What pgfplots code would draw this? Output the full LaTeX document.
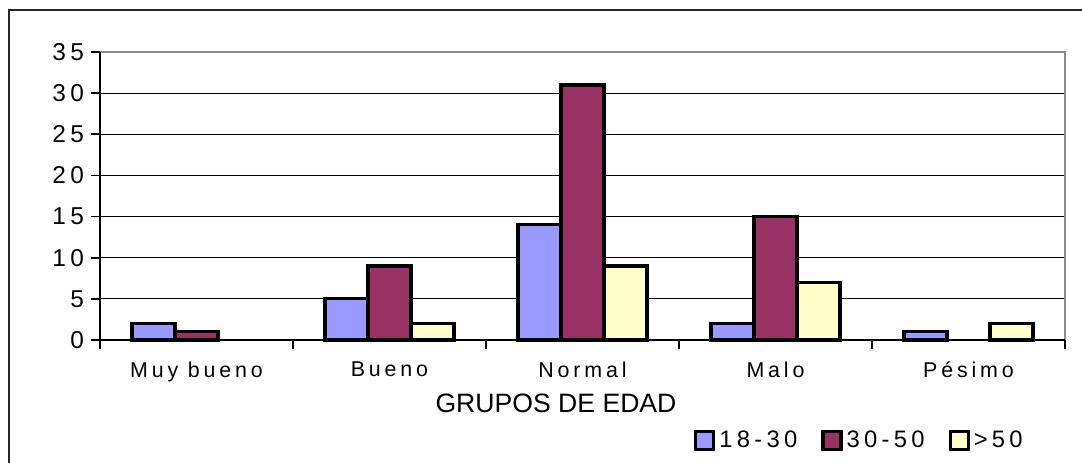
\documentclass[border=0pt]{standalone}
\usepackage{fontspec}
\setmainfont{Liberation Sans}
\newfontfamily\spaced[LetterSpace=18]{Liberation Sans}
\usepackage{pgfplots}
\pgfplotsset{compat=1.18}
\definecolor{cA}{HTML}{9999FF}
\definecolor{cB}{HTML}{993366}
\definecolor{cC}{HTML}{FFFFCC}
\definecolor{bordgray}{HTML}{8C8C8C}
\begin{document}
\begin{tikzpicture}[x=1pt,y=1pt]
\path[use as bounding box] (0,0) rectangle (541,231);
\draw[line width=1pt, black!85] (4.5,-5) -- (4.5,226) -- (546,226);
\begin{axis}[at={(50pt,61pt)}, anchor=south west, scale only axis,
  width=482.5pt, height=144pt,
  xmin=-0.5, xmax=4.5, ymin=0, ymax=35,
  ytick={0,5,...,35},
  xtick={-0.5,0.5,1.5,2.5,3.5,4.5},
  xticklabels={,,,,,},
  extra x ticks={0,1,2,3,4},
  extra x tick labels={Muy bueno,Bueno,Normal,Malo,Pésimo},
  extra x tick style={tick style={draw=none}},
  tick align=outside,
  xtick pos=left, ytick pos=left,
  major tick length=4.5pt,
  tick style={black, line width=0.8pt},
  ymajorgrids, grid style={black, line width=0.6pt},
  axis line style={draw=none},
  /pgf/number format/assume math mode=true,
  yticklabel style={font=\spaced\fontsize{12.2}{14}\selectfont},
  xticklabel style={font=\spaced\fontsize{10.7}{13}\selectfont, yshift=-3pt},
  ybar=0pt, bar width=21.5pt,
  clip=false,
  legend style={at={(0.788,-0.35)}, anchor=center, draw=none,
    font=\spaced\fontsize{11.9}{14}\selectfont,
    /tikz/every even column/.append style={column sep=10pt}},
  legend columns=3,
  legend image code/.code={\draw[#1, draw=black, line width=1.6pt] (0pt,-4.5pt) rectangle (9pt,4.5pt);},
]
\addplot[fill=cA, draw=black, line width=1.6pt] coordinates {(0,2) (1,5) (2,14) (3,2) (4,1)};
\addplot[fill=cB, draw=black, line width=1.6pt] coordinates {(0,1) (1,9) (2,31) (3,15)};
\addplot[fill=cC, draw=black, line width=1.6pt] coordinates {(1,2) (2,9) (3,7) (4,2)};
\legend{18-30,30-50,>50}
\draw[bordgray, line width=1.2pt] (rel axis cs:0,1) -- (rel axis cs:1,1) -- (rel axis cs:1,0);
\draw[black, line width=0.8pt] (rel axis cs:0,1) -- (rel axis cs:0,0) -- (rel axis cs:1,0);
\end{axis}
\node[anchor=base, font=\fontsize{13.3}{16}\selectfont] at (278,25) {GRUPOS DE EDAD};
\end{tikzpicture}
\end{document}
